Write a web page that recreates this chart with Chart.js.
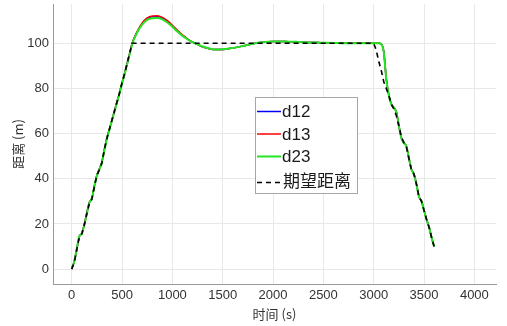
<!DOCTYPE html>
<html>
<head>
<meta charset="utf-8">
<script src="https://cdn.jsdelivr.net/npm/chart.js@4/dist/chart.umd.min.js"></script>
<style>
  html, body { margin: 0; padding: 0; background: #fff; }
  #wrap { width: 507px; height: 326px; }
</style>
</head>
<body>
<div id="wrap"><canvas id="c" width="507" height="326"></canvas></div>
<script>
// Time stamps (s)
const timeSec = [
  0, 25, 50, 75, 100, 125, 150, 175, 200, 225, 250, 275, 300, 325, 350, 375, 400, 425, 450, 475, 500, 525, 550, 575, 600,
  650, 700, 750, 800, 850, 900, 950, 1000, 1050, 1100, 1150, 1200, 1250, 1300, 1350, 1400, 1450, 1500, 1550, 1600,
  1650, 1700, 1750, 1800, 1850, 1900, 1950, 2000, 2050, 2100, 2150, 2200, 2250, 2300, 2350, 2400, 2450, 2500, 2550,
  2600, 2650, 2700, 2750, 2800, 2850, 2900, 2950,
  3000, 3025, 3050, 3075, 3100, 3125, 3150, 3175, 3200, 3225, 3250, 3275, 3300, 3325, 3350, 3375, 3400, 3425, 3450,
  3475, 3500, 3525, 3550, 3575, 3600
];

// Distance between vehicles 1 and 2 (m)
const d12 = [
  0.2, 3.3, 8.8, 14.3, 15.9, 19.8, 24.8, 29.5, 31.3, 36.8, 41.6, 44.4, 47.5, 53.1, 58.1, 62.1, 66.1, 70.1, 74.1, 78.1, 82.5, 86.6, 91, 95.4, 99.9,
  105.0, 108.7, 111.0, 111.8, 111.9, 111.2, 109.7, 107.7, 105.5, 103.5, 101.9, 100.5, 99.5, 98.5, 97.8, 97.3, 97.2, 97.3, 97.5, 97.9,
  98.3, 98.8, 99.3, 99.8, 100.2, 100.5, 100.7, 100.8, 100.8, 100.8, 100.7, 100.7, 100.6, 100.5, 100.4, 100.4, 100.3, 100.2, 100.2,
  100.1, 100.1, 100, 100, 100, 100, 100, 100,
  100, 100, 100, 99.7, 96.3, 84.3, 77.2, 73.2, 71.6, 69.6, 63.6, 58.2, 55.9, 54.4, 49.1, 44.2, 42.1, 37.6, 32.1,
  30.1, 26.1, 22.1, 18.6, 14.1, 10.1
];

// Distance between vehicles 1 and 3 (m)
const d13 = [
  0.2, 3.3, 8.8, 14.3, 15.9, 19.8, 24.8, 29.5, 31.3, 36.8, 41.6, 44.4, 47.5, 53.1, 58.1, 62.1, 66.1, 70.1, 74.1, 78.1, 82.5, 86.6, 91, 95.4, 99.9,
  105.2, 109.0, 111.3, 112.1, 112.2, 111.5, 110.0, 108.0, 105.8, 103.7, 102.0, 100.6, 99.5, 98.5, 97.8, 97.3, 97.2, 97.3, 97.5, 97.9,
  98.3, 98.8, 99.3, 99.8, 100.2, 100.5, 100.7, 100.8, 100.8, 100.8, 100.7, 100.7, 100.6, 100.5, 100.4, 100.4, 100.3, 100.2, 100.2,
  100.1, 100.1, 100, 100, 100, 100, 100, 100,
  100, 100, 100, 99.7, 96.3, 84.3, 77.2, 73.2, 71.6, 69.6, 63.6, 58.2, 55.9, 54.4, 49.1, 44.2, 42.1, 37.6, 32.1,
  30.1, 26.1, 22.1, 18.6, 14.1, 10.1
];

// Distance between vehicles 2 and 3 (m)
const d23 = [
  0.3, 3.5, 9, 14.5, 15.8, 19.5, 24.5, 29.3, 31.2, 36.5, 41.3, 44.2, 47.2, 52.8, 57.8, 61.8, 65.8, 69.8, 73.8, 77.8, 82.2, 86.2, 90.6, 95, 99.5,
  104.8, 108.3, 110.4, 111.1, 111.2, 110.6, 109.2, 107.3, 105.2, 103.3, 101.8, 100.5, 99.5, 98.6, 97.9, 97.4, 97.3, 97.4, 97.6, 97.9,
  98.3, 98.8, 99.3, 99.8, 100.2, 100.5, 100.7, 100.8, 100.8, 100.8, 100.7, 100.7, 100.6, 100.5, 100.4, 100.4, 100.3, 100.2, 100.2,
  100.1, 100.1, 100, 100, 100, 100, 100, 100,
  100, 100, 100, 99.6, 96, 84, 77, 73, 71.5, 69.5, 63.5, 58, 55.8, 54.3, 49, 44, 42, 37.5, 32,
  30, 26, 22, 18.5, 14, 10
];

// Desired distance (m)
const desired = [
  0, 3, 8.5, 14, 15.5, 19.5, 24.5, 29, 31, 36.5, 41.5, 44, 47, 53, 58, 62, 66, 70, 74, 78, 82.5, 86.5, 91, 95.5, 100,
  100, 100, 100, 100, 100, 100, 100, 100, 100, 100, 100, 100, 100, 100, 100, 100, 100, 100, 100, 100,
  100, 100, 100, 100, 100, 100, 100, 100, 100, 100, 100, 100, 100, 100, 100, 100, 100, 100, 100,
  100, 100, 100, 100, 100, 100, 100, 100,
  100, 97, 92, 88, 83, 80, 77, 73, 71, 68, 63.5, 58.5, 56, 54, 49, 44, 42, 37.5, 32,
  30, 26, 22, 18.5, 14, 10
];

const seriesLabels = ['d12', 'd13', 'd23', '期望距离'];
const xTicks = [0, 500, 1000, 1500, 2000, 2500, 3000, 3500, 4000];
const yTicks = [0, 20, 40, 60, 80, 100];

const toPoints = vals => vals.map((v, i) => ({ x: timeSec[i], y: v }));

const LATIN = '"Liberation Sans", Arial, sans-serif';
const CJK = '"Noto Sans CJK SC", "Liberation Sans", sans-serif';

// Boxed legend placed inside the plot area
const boxLegend = {
  id: 'boxLegend',
  afterDraw(chart) {
    const ctx = chart.ctx;
    const x0 = 255.5, y0 = 97.5, w = 102, h = 96;
    ctx.save();
    ctx.fillStyle = '#ffffff';
    ctx.fillRect(x0, y0, w, h);
    ctx.strokeStyle = '#a6a6a6';
    ctx.lineWidth = 1;
    ctx.strokeRect(x0, y0, w, h);
    const rows = [111.5, 134, 156.5, 182.5];
    chart.data.datasets.forEach((ds, i) => {
      const y = rows[i];
      ctx.strokeStyle = ds.borderColor;
      ctx.lineWidth = ds.legendWidth;
      ctx.setLineDash(ds.borderDash || []);
      ctx.beginPath();
      ctx.moveTo(257, y);
      ctx.lineTo(281, y);
      ctx.stroke();
      ctx.setLineDash([]);
      ctx.fillStyle = '#1a1a1a';
      ctx.textBaseline = 'middle';
      ctx.textAlign = 'left';
      if (i === 3) {
        ctx.font = '17px ' + CJK;
        ctx.fillText(ds.label, 283, y - 2);
      } else {
        ctx.font = '17px ' + LATIN;
        ctx.fillText(ds.label, 282, y + 1);
      }
    });
    ctx.restore();
  }
};

new Chart(document.getElementById('c'), {
  type: 'line',
  data: {
    datasets: [
      { label: seriesLabels[0], data: toPoints(d12), borderColor: '#0000ff', borderWidth: 1.5, legendWidth: 1.5, order: 3 },
      { label: seriesLabels[1], data: toPoints(d13), borderColor: '#ff0000', borderWidth: 1.5, legendWidth: 1.5, order: 2 },
      { label: seriesLabels[2], data: toPoints(d23), borderColor: '#22e622', borderWidth: 2, legendWidth: 2, order: 1 },
      { label: seriesLabels[3], data: toPoints(desired), borderColor: '#000000', borderWidth: 1.6, legendWidth: 1.6,
        borderDash: [5, 4], tension: 0, cubicInterpolationMode: 'default', order: 0 }
    ]
  },
  options: {
    responsive: false,
    animation: false,
    devicePixelRatio: 1,
    layout: { padding: { top: 4, right: 11, left: 0, bottom: 0 } },
    elements: {
      point: { radius: 0 },
      line: { cubicInterpolationMode: 'monotone', fill: false }
    },
    plugins: {
      legend: { display: false },
      tooltip: { enabled: false }
    },
    scales: {
      x: {
        type: 'linear',
        min: -186,
        max: 4215,
        afterBuildTicks: s => { s.ticks = xTicks.map(v => ({ value: v })); },
        afterFit: s => { s.height = 42; s.paddingLeft = 0; s.paddingRight = 0; },
        ticks: { color: '#333', padding: 4, font: { family: LATIN, size: 13 }, maxRotation: 0,
                 callback: v => String(v) },
        grid: { color: '#e8e8e8', lineWidth: 1, drawTicks: false },
        border: { display: true, color: '#9a9a9a', width: 1 },
        title: { display: true, text: '时间 (s)', color: '#333', font: { family: CJK, size: 13 },
                 padding: { top: 0, bottom: 4 } }
      },
      y: {
        type: 'linear',
        min: -6.6,
        max: 117.4,
        afterBuildTicks: s => { s.ticks = yTicks.map(v => ({ value: v })); },
        afterFit: s => { s.width = 53; s.paddingTop = 0; s.paddingBottom = 0; },
        ticks: { color: '#333', padding: 4, font: { family: LATIN, size: 13 },
                 callback: v => String(v) },
        grid: { color: '#e8e8e8', lineWidth: 1, drawTicks: false },
        border: { display: true, color: '#9a9a9a', width: 1 },
        title: { display: true, text: '距离 (m)', color: '#333', font: { family: CJK, size: 13 },
                 padding: { top: 10, bottom: 0 } }
      }
    }
  },
  plugins: [boxLegend]
});
</script>
</body>
</html>
